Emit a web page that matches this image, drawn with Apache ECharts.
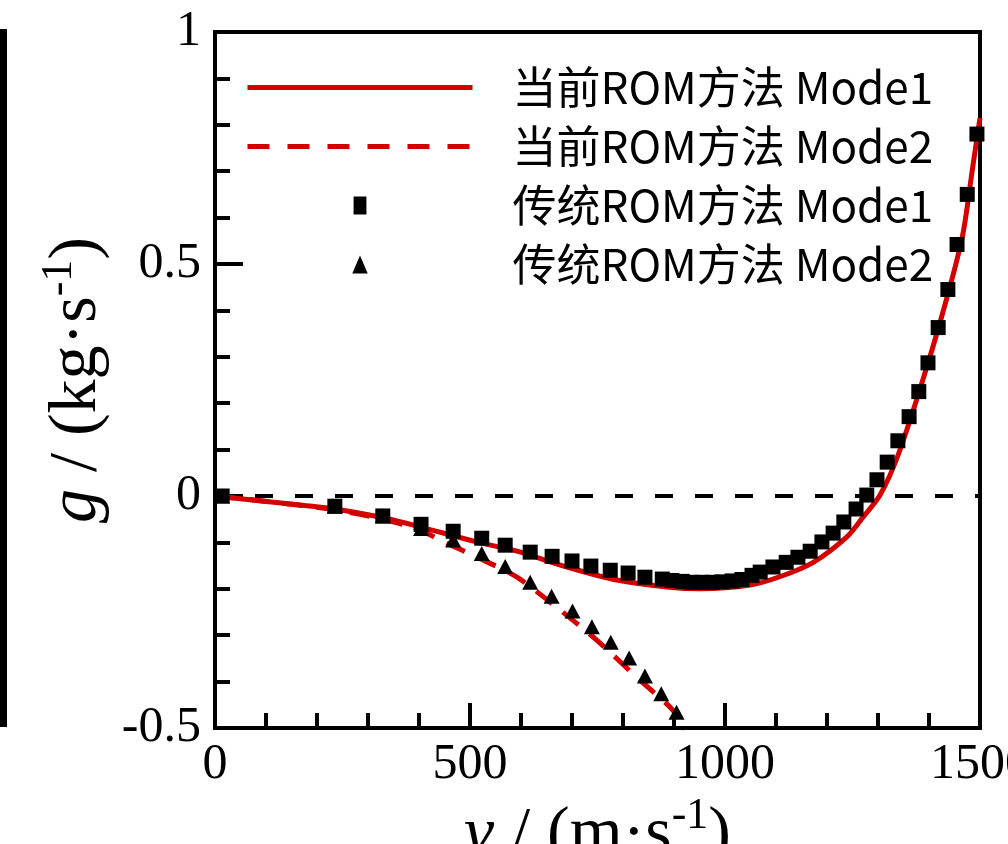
<!DOCTYPE html>
<html>
<head>
<meta charset="utf-8">
<script src="https://cdn.jsdelivr.net/npm/echarts@6/dist/echarts.min.js"></script>
<style>
  html, body { margin: 0; padding: 0; background: #fff; }
  #chart { width: 1008px; height: 844px; }
</style>
</head>
<body>
<div id="chart"></div>
<script>
// 图例名称
const seriesNames = ['当前ROM方法 Mode1', '当前ROM方法 Mode2', '传统ROM方法 Mode1', '传统ROM方法 Mode2']

// 坐标轴刻度
const xTicks = [0, 500, 1000, 1500]
const yTicks = [-0.5, 0, 0.5, 1]

// 零值参考线
const zeroLineX = [0, 1500]
const zeroLineY = [0, 0]

// 当前ROM方法 Mode1（实线）
const curMode1X = [0, 120, 235, 330, 404, 513, 592, 690, 788, 886, 951, 1049, 1110, 1173, 1239, 1271, 1304, 1340, 1396, 1441, 1467, 1486, 1500]
const curMode1Y = [0, -0.014, -0.028, -0.047, -0.067, -0.099, -0.119, -0.153, -0.181, -0.196, -0.2, -0.192, -0.173, -0.143, -0.088, -0.045, 0.002, 0.09, 0.279, 0.451, 0.568, 0.711, 0.815]

// 当前ROM方法 Mode2（虚线）
const curMode2X = [0, 120, 235, 330, 404, 441, 520, 592, 670, 749, 827, 898, 920]
const curMode2Y = [0, -0.014, -0.03, -0.05, -0.074, -0.095, -0.135, -0.175, -0.24, -0.311, -0.391, -0.462, -0.505]

// 传统ROM方法 Mode1（方块）
const oldMode1X = [14, 235, 329, 404, 467, 523, 569, 618, 661, 700, 737, 775, 810, 843, 877, 896, 916, 935, 955, 975, 994, 1014, 1033, 1053, 1069, 1094, 1120, 1143, 1167, 1190, 1212, 1233, 1257, 1278, 1298, 1318, 1339, 1361, 1380, 1398, 1418, 1437, 1455, 1475, 1494]
const oldMode1Y = [0, -0.022, -0.043, -0.061, -0.076, -0.091, -0.106, -0.121, -0.13, -0.14, -0.151, -0.16, -0.166, -0.175, -0.179, -0.182, -0.184, -0.186, -0.186, -0.186, -0.185, -0.183, -0.18, -0.171, -0.164, -0.153, -0.143, -0.132, -0.119, -0.099, -0.08, -0.056, -0.028, 0.002, 0.035, 0.073, 0.119, 0.171, 0.225, 0.287, 0.363, 0.445, 0.542, 0.65, 0.78]

// 传统ROM方法 Mode2（三角）
const oldMode2X = [14, 235, 329, 404, 467, 523, 569, 618, 660, 701, 739, 776, 812, 843, 875, 905]
const oldMode2Y = [0, -0.022, -0.043, -0.07, -0.095, -0.124, -0.152, -0.186, -0.216, -0.248, -0.282, -0.315, -0.349, -0.388, -0.426, -0.466]

const red = '#d40000'
const serif = '"Liberation Serif", "DejaVu Serif", serif'

function pairs(xs, ys) {
  return xs.map((x, i) => [x, ys[i]])
}

const chart = echarts.init(document.getElementById('chart'))

const nameRich = {
  i: { fontFamily: serif, fontSize: 68, fontStyle: 'italic', color: '#000', lineHeight: 80 },
  n: { fontFamily: serif, fontSize: 68, color: '#000', lineHeight: 80 },
  s: { fontFamily: serif, fontSize: 44, color: '#000', verticalAlign: 'top', lineHeight: 80 }
}

// 图例中线型条目只画线，不画点
const hideSymbol = { color: 'transparent', borderColor: 'transparent', borderWidth: 0 }

const option = {
  animation: false,
  backgroundColor: '#fff',
  grid: {
    left: 215,
    top: 32,
    right: 28,
    bottom: 116,
    outerBoundsMode: 'none',
    containLabel: false,
    show: true,
    borderColor: '#000',
    borderWidth: 4
  },
  legend: {
    orient: 'vertical',
    left: 245,
    top: 58,
    padding: 0,
    itemGap: 0,
    itemWidth: 225,
    itemHeight: 18,
    textStyle: {
      fontFamily: '"Noto Sans CJK SC", sans-serif',
      fontSize: 44,
      color: '#000',
      lineHeight: 59,
      padding: [0, 0, 0, 35]
    },
    data: [
      { name: seriesNames[0], itemStyle: hideSymbol, lineStyle: { width: 5, color: red } },
      { name: seriesNames[1], itemStyle: hideSymbol, lineStyle: { width: 5, color: red, type: [22, 18] } },
      { name: seriesNames[2], icon: 'path://M0,0L10,0L10,14L0,14Z' },
      { name: seriesNames[3], icon: 'path://M6,0L12,14L0,14Z' }
    ]
  },
  xAxis: {
    type: 'value',
    min: xTicks[0],
    max: xTicks[xTicks.length - 1],
    interval: xTicks[1] - xTicks[0],
    name: '{i|v}{n| / (m·s}{s|-1}{n|)}',
    nameLocation: 'middle',
    nameGap: 58,
    nameTextStyle: { rich: nameRich },
    axisLine: { show: true, onZero: false, lineStyle: { color: '#000', width: 4 } },
    axisTick: { show: true, inside: true, length: 25, lineStyle: { color: '#000', width: 4 } },
    minorTick: { show: true, splitNumber: 5, length: 15, lineStyle: { color: '#000', width: 4 } },
    splitLine: { show: false },
    axisLabel: {
      fontFamily: serif,
      fontSize: 50,
      color: '#000',
      margin: 12,
      formatter: v => String(v)
    }
  },
  yAxis: {
    type: 'value',
    min: yTicks[0],
    max: yTicks[yTicks.length - 1],
    interval: yTicks[1] - yTicks[0],
    name: '{i|g}{n| / (kg·s}{s|-1}{n|)}',
    nameLocation: 'middle',
    nameGap: 80,
    nameTextStyle: { rich: nameRich },
    axisLine: { show: true, onZero: false, lineStyle: { color: '#000', width: 4 } },
    axisTick: { show: true, inside: true, length: 28, lineStyle: { color: '#000', width: 4 } },
    minorTick: { show: true, splitNumber: 5, length: 15, lineStyle: { color: '#000', width: 4 } },
    splitLine: { show: false },
    axisLabel: {
      fontFamily: serif,
      fontSize: 50,
      color: '#000',
      margin: 14,
      formatter: v => String(v)
    }
  },
  graphic: [
    {
      // 左侧相邻子图的边框
      type: 'rect',
      shape: { x: 0, y: 29, width: 7, height: 698 },
      style: { fill: '#000' },
      silent: true
    }
  ],
  series: [
    {
      name: 'zero',
      type: 'line',
      symbol: 'none',
      silent: true,
      data: pairs(zeroLineX, zeroLineY),
      lineStyle: { color: '#000', width: 4, type: [18, 22] },
      z: 1
    },
    {
      name: seriesNames[0],
      type: 'line',
      smooth: 0.3,
      symbol: 'none',
      data: pairs(curMode1X, curMode1Y),
      lineStyle: { color: red, width: 5 },
      itemStyle: { color: red },
      z: 2
    },
    {
      name: seriesNames[1],
      type: 'line',
      smooth: 0.3,
      symbol: 'none',
      data: pairs(curMode2X, curMode2Y),
      lineStyle: { color: red, width: 5, type: [20, 14] },
      itemStyle: { color: red },
      z: 2
    },
    {
      name: seriesNames[2],
      type: 'scatter',
      symbol: 'rect',
      symbolSize: 15,
      data: pairs(oldMode1X, oldMode1Y),
      itemStyle: { color: '#000', opacity: 1 },
      z: 3
    },
    {
      name: seriesNames[3],
      type: 'scatter',
      symbol: 'triangle',
      symbolSize: [16, 15],
      data: pairs(oldMode2X, oldMode2Y),
      itemStyle: { color: '#000', opacity: 1 },
      z: 3
    }
  ]
}

chart.setOption(option)
</script>
</body>
</html>
